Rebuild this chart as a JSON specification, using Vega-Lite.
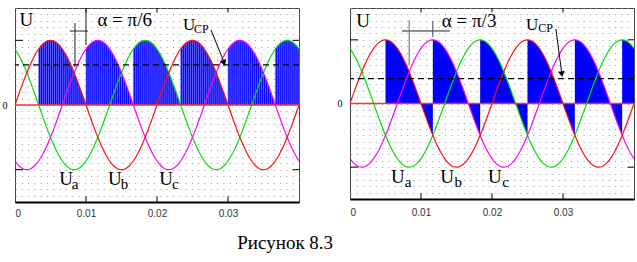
{
"$schema": "https://vega.github.io/schema/vega-lite/v6.json",
"padding": {"left": 1, "top": 2, "right": 2, "bottom": 5},
"background": "#ffffff",
"title": {"text": "Рисунок 8.3", "orient": "bottom", "anchor": "middle", "font": "Liberation Serif", "fontSize": 19, "fontWeight": "normal", "color": "#000000", "offset": 15, "dx": -34},
"config": {"view": {"stroke": "#444444", "strokeWidth": 1}, "text": {"font": "Liberation Serif", "color": "#000000"}},
"datasets": {
"one": [{}],
"pm1": [{"v": 1}, {"v": -1}],
"tk": [{"d": 180}, {"d": 360}, {"d": 540}],
"sine": [
{"d":0,"a":0,"b":-0.866,"c":0.866},{"d":10,"a":0.174,"b":-0.94,"c":0.766},{"d":20,"a":0.342,"b":-0.985,"c":0.643},{"d":30,"a":0.5,"b":-1,"c":0.5},{"d":40,"a":0.643,"b":-0.985,"c":0.342},{"d":50,"a":0.766,"b":-0.94,"c":0.174},{"d":60,"a":0.866,"b":-0.866,"c":0},{"d":70,"a":0.94,"b":-0.766,"c":-0.174},{"d":80,"a":0.985,"b":-0.643,"c":-0.342},{"d":90,"a":1,"b":-0.5,"c":-0.5},{"d":100,"a":0.985,"b":-0.342,"c":-0.643},{"d":110,"a":0.94,"b":-0.174,"c":-0.766},{"d":120,"a":0.866,"b":0,"c":-0.866},{"d":130,"a":0.766,"b":0.174,"c":-0.94},{"d":140,"a":0.643,"b":0.342,"c":-0.985},{"d":150,"a":0.5,"b":0.5,"c":-1},{"d":160,"a":0.342,"b":0.643,"c":-0.985},{"d":170,"a":0.174,"b":0.766,"c":-0.94},{"d":180,"a":0,"b":0.866,"c":-0.866},{"d":190,"a":-0.174,"b":0.94,"c":-0.766},{"d":200,"a":-0.342,"b":0.985,"c":-0.643},{"d":210,"a":-0.5,"b":1,"c":-0.5},{"d":220,"a":-0.643,"b":0.985,"c":-0.342},{"d":230,"a":-0.766,"b":0.94,"c":-0.174},{"d":240,"a":-0.866,"b":0.866,"c":0},{"d":250,"a":-0.94,"b":0.766,"c":0.174},{"d":260,"a":-0.985,"b":0.643,"c":0.342},{"d":270,"a":-1,"b":0.5,"c":0.5},{"d":280,"a":-0.985,"b":0.342,"c":0.643},{"d":290,"a":-0.94,"b":0.174,"c":0.766},{"d":300,"a":-0.866,"b":0,"c":0.866},{"d":310,"a":-0.766,"b":-0.174,"c":0.94},{"d":320,"a":-0.643,"b":-0.342,"c":0.985},{"d":330,"a":-0.5,"b":-0.5,"c":1},{"d":340,"a":-0.342,"b":-0.643,"c":0.985},{"d":350,"a":-0.174,"b":-0.766,"c":0.94},
{"d":360,"a":0,"b":-0.866,"c":0.866},{"d":370,"a":0.174,"b":-0.94,"c":0.766},{"d":380,"a":0.342,"b":-0.985,"c":0.643},{"d":390,"a":0.5,"b":-1,"c":0.5},{"d":400,"a":0.643,"b":-0.985,"c":0.342},{"d":410,"a":0.766,"b":-0.94,"c":0.174},{"d":420,"a":0.866,"b":-0.866,"c":0},{"d":430,"a":0.94,"b":-0.766,"c":-0.174},{"d":440,"a":0.985,"b":-0.643,"c":-0.342},{"d":450,"a":1,"b":-0.5,"c":-0.5},{"d":460,"a":0.985,"b":-0.342,"c":-0.643},{"d":470,"a":0.94,"b":-0.174,"c":-0.766},{"d":480,"a":0.866,"b":0,"c":-0.866},{"d":490,"a":0.766,"b":0.174,"c":-0.94},{"d":500,"a":0.643,"b":0.342,"c":-0.985},{"d":510,"a":0.5,"b":0.5,"c":-1},{"d":520,"a":0.342,"b":0.643,"c":-0.985},{"d":530,"a":0.174,"b":0.766,"c":-0.94},{"d":540,"a":0,"b":0.866,"c":-0.866},{"d":550,"a":-0.174,"b":0.94,"c":-0.766},{"d":560,"a":-0.342,"b":0.985,"c":-0.643},{"d":570,"a":-0.5,"b":1,"c":-0.5},{"d":580,"a":-0.643,"b":0.985,"c":-0.342},{"d":590,"a":-0.766,"b":0.94,"c":-0.174},{"d":600,"a":-0.866,"b":0.866,"c":0},{"d":610,"a":-0.94,"b":0.766,"c":0.174},{"d":620,"a":-0.985,"b":0.643,"c":0.342},{"d":630,"a":-1,"b":0.5,"c":0.5},{"d":640,"a":-0.985,"b":0.342,"c":0.643},{"d":650,"a":-0.94,"b":0.174,"c":0.766},{"d":660,"a":-0.866,"b":0,"c":0.866},{"d":670,"a":-0.766,"b":-0.174,"c":0.94},{"d":680,"a":-0.643,"b":-0.342,"c":0.985},{"d":690,"a":-0.5,"b":-0.5,"c":1},{"d":700,"a":-0.342,"b":-0.643,"c":0.985},{"d":710,"a":-0.174,"b":-0.766,"c":0.94},{"d":720,"a":0,"b":-0.866,"c":0.866}
],
"lobeL": [
{"L":1,"d":60,"u":0.866},{"L":1,"d":65,"u":0.906},{"L":1,"d":70,"u":0.94},{"L":1,"d":75,"u":0.966},{"L":1,"d":80,"u":0.985},{"L":1,"d":85,"u":0.996},{"L":1,"d":90,"u":1},{"L":1,"d":95,"u":0.996},{"L":1,"d":100,"u":0.985},{"L":1,"d":105,"u":0.966},{"L":1,"d":110,"u":0.94},{"L":1,"d":115,"u":0.906},{"L":1,"d":120,"u":0.866},{"L":1,"d":125,"u":0.819},{"L":1,"d":130,"u":0.766},{"L":1,"d":135,"u":0.707},{"L":1,"d":140,"u":0.643},{"L":1,"d":145,"u":0.574},{"L":1,"d":150,"u":0.5},{"L":1,"d":155,"u":0.423},{"L":1,"d":160,"u":0.342},{"L":1,"d":165,"u":0.259},{"L":1,"d":170,"u":0.174},{"L":1,"d":175,"u":0.087},{"L":1,"d":180,"u":0},
{"L":2,"d":180,"u":0.866},{"L":2,"d":185,"u":0.906},{"L":2,"d":190,"u":0.94},{"L":2,"d":195,"u":0.966},{"L":2,"d":200,"u":0.985},{"L":2,"d":205,"u":0.996},{"L":2,"d":210,"u":1},{"L":2,"d":215,"u":0.996},{"L":2,"d":220,"u":0.985},{"L":2,"d":225,"u":0.966},{"L":2,"d":230,"u":0.94},{"L":2,"d":235,"u":0.906},{"L":2,"d":240,"u":0.866},{"L":2,"d":245,"u":0.819},{"L":2,"d":250,"u":0.766},{"L":2,"d":255,"u":0.707},{"L":2,"d":260,"u":0.643},{"L":2,"d":265,"u":0.574},{"L":2,"d":270,"u":0.5},{"L":2,"d":275,"u":0.423},{"L":2,"d":280,"u":0.342},{"L":2,"d":285,"u":0.259},{"L":2,"d":290,"u":0.174},{"L":2,"d":295,"u":0.087},{"L":2,"d":300,"u":0},
{"L":3,"d":300,"u":0.866},{"L":3,"d":305,"u":0.906},{"L":3,"d":310,"u":0.94},{"L":3,"d":315,"u":0.966},{"L":3,"d":320,"u":0.985},{"L":3,"d":325,"u":0.996},{"L":3,"d":330,"u":1},{"L":3,"d":335,"u":0.996},{"L":3,"d":340,"u":0.985},{"L":3,"d":345,"u":0.966},{"L":3,"d":350,"u":0.94},{"L":3,"d":355,"u":0.906},{"L":3,"d":360,"u":0.866},{"L":3,"d":365,"u":0.819},{"L":3,"d":370,"u":0.766},{"L":3,"d":375,"u":0.707},{"L":3,"d":380,"u":0.643},{"L":3,"d":385,"u":0.574},{"L":3,"d":390,"u":0.5},{"L":3,"d":395,"u":0.423},{"L":3,"d":400,"u":0.342},{"L":3,"d":405,"u":0.259},{"L":3,"d":410,"u":0.174},{"L":3,"d":415,"u":0.087},{"L":3,"d":420,"u":0},
{"L":4,"d":420,"u":0.866},{"L":4,"d":425,"u":0.906},{"L":4,"d":430,"u":0.94},{"L":4,"d":435,"u":0.966},{"L":4,"d":440,"u":0.985},{"L":4,"d":445,"u":0.996},{"L":4,"d":450,"u":1},{"L":4,"d":455,"u":0.996},{"L":4,"d":460,"u":0.985},{"L":4,"d":465,"u":0.966},{"L":4,"d":470,"u":0.94},{"L":4,"d":475,"u":0.906},{"L":4,"d":480,"u":0.866},{"L":4,"d":485,"u":0.819},{"L":4,"d":490,"u":0.766},{"L":4,"d":495,"u":0.707},{"L":4,"d":500,"u":0.643},{"L":4,"d":505,"u":0.574},{"L":4,"d":510,"u":0.5},{"L":4,"d":515,"u":0.423},{"L":4,"d":520,"u":0.342},{"L":4,"d":525,"u":0.259},{"L":4,"d":530,"u":0.174},{"L":4,"d":535,"u":0.087},{"L":4,"d":540,"u":0},
{"L":5,"d":540,"u":0.866},{"L":5,"d":545,"u":0.906},{"L":5,"d":550,"u":0.94},{"L":5,"d":555,"u":0.966},{"L":5,"d":560,"u":0.985},{"L":5,"d":565,"u":0.996},{"L":5,"d":570,"u":1},{"L":5,"d":575,"u":0.996},{"L":5,"d":580,"u":0.985},{"L":5,"d":585,"u":0.966},{"L":5,"d":590,"u":0.94},{"L":5,"d":595,"u":0.906},{"L":5,"d":600,"u":0.866},{"L":5,"d":605,"u":0.819},{"L":5,"d":610,"u":0.766},{"L":5,"d":615,"u":0.707},{"L":5,"d":620,"u":0.643},{"L":5,"d":625,"u":0.574},{"L":5,"d":630,"u":0.5},{"L":5,"d":635,"u":0.423},{"L":5,"d":640,"u":0.342},{"L":5,"d":645,"u":0.259},{"L":5,"d":650,"u":0.174},{"L":5,"d":655,"u":0.087},{"L":5,"d":660,"u":0},
{"L":6,"d":660,"u":0.866},{"L":6,"d":665,"u":0.906},{"L":6,"d":670,"u":0.94},{"L":6,"d":675,"u":0.966},{"L":6,"d":680,"u":0.985},{"L":6,"d":685,"u":0.996},{"L":6,"d":690,"u":1},{"L":6,"d":695,"u":0.996},{"L":6,"d":700,"u":0.985},{"L":6,"d":705,"u":0.966},{"L":6,"d":710,"u":0.94},{"L":6,"d":715,"u":0.906},{"L":6,"d":720,"u":0.866}
],
"lobeR": [
{"L":1,"d":90,"u":1},{"L":1,"d":100,"u":0.985},{"L":1,"d":110,"u":0.94},{"L":1,"d":120,"u":0.866},{"L":1,"d":130,"u":0.766},{"L":1,"d":140,"u":0.643},{"L":1,"d":150,"u":0.5},{"L":1,"d":160,"u":0.342},{"L":1,"d":170,"u":0.174},{"L":1,"d":180,"u":0},{"L":1,"d":190,"u":-0.174},{"L":1,"d":200,"u":-0.342},{"L":1,"d":210,"u":-0.5},
{"L":2,"d":210,"u":1},{"L":2,"d":220,"u":0.985},{"L":2,"d":230,"u":0.94},{"L":2,"d":240,"u":0.866},{"L":2,"d":250,"u":0.766},{"L":2,"d":260,"u":0.643},{"L":2,"d":270,"u":0.5},{"L":2,"d":280,"u":0.342},{"L":2,"d":290,"u":0.174},{"L":2,"d":300,"u":0},{"L":2,"d":310,"u":-0.174},{"L":2,"d":320,"u":-0.342},{"L":2,"d":330,"u":-0.5},
{"L":3,"d":330,"u":1},{"L":3,"d":340,"u":0.985},{"L":3,"d":350,"u":0.94},{"L":3,"d":360,"u":0.866},{"L":3,"d":370,"u":0.766},{"L":3,"d":380,"u":0.643},{"L":3,"d":390,"u":0.5},{"L":3,"d":400,"u":0.342},{"L":3,"d":410,"u":0.174},{"L":3,"d":420,"u":0},{"L":3,"d":430,"u":-0.174},{"L":3,"d":440,"u":-0.342},{"L":3,"d":450,"u":-0.5},
{"L":4,"d":450,"u":1},{"L":4,"d":460,"u":0.985},{"L":4,"d":470,"u":0.94},{"L":4,"d":480,"u":0.866},{"L":4,"d":490,"u":0.766},{"L":4,"d":500,"u":0.643},{"L":4,"d":510,"u":0.5},{"L":4,"d":520,"u":0.342},{"L":4,"d":530,"u":0.174},{"L":4,"d":540,"u":0},{"L":4,"d":550,"u":-0.174},{"L":4,"d":560,"u":-0.342},{"L":4,"d":570,"u":-0.5},
{"L":5,"d":570,"u":1},{"L":5,"d":580,"u":0.985},{"L":5,"d":590,"u":0.94},{"L":5,"d":600,"u":0.866},{"L":5,"d":610,"u":0.766},{"L":5,"d":620,"u":0.643},{"L":5,"d":630,"u":0.5},{"L":5,"d":640,"u":0.342},{"L":5,"d":650,"u":0.174},{"L":5,"d":660,"u":0},{"L":5,"d":670,"u":-0.174},{"L":5,"d":680,"u":-0.342},{"L":5,"d":690,"u":-0.5},
{"L":6,"d":690,"u":1},{"L":6,"d":700,"u":0.985},{"L":6,"d":710,"u":0.94},{"L":6,"d":720,"u":0.866}
]
},
"hconcat": [
{
"width": 284, "height": 194,
"layer": [
{"data": {"name": "lobeL"}, "mark": {"type": "area", "color": "#0000ff", "opacity": 1},
 "encoding": {
  "x": {"field": "d", "type": "quantitative", "scale": {"domain": [0, 720], "nice": false, "zero": false},
        "axis": {"title": null, "values": [0, 180, 360, 540], "labelExpr": "datum.value == 0 ? '0' : format(datum.value / 18000, '.2f')", "ticks": false, "grid": false, "domain": true, "domainColor": "#000000", "domainWidth": 2, "labelFont": "Liberation Sans", "labelFontSize": 10, "labelColor": "#333333", "labelPadding": 6}},
  "y": {"field": "u", "type": "quantitative", "scale": {"domain": [-1.5, 1.5], "nice": false, "zero": false},
        "axis": {"title": null, "tickCount": 30, "grid": true, "gridDash": [1, 5.3], "gridColor": "#9a9a9a", "ticks": false, "domain": false, "labelExpr": "datum.value == 0 ? '0' : ''", "labelOverlap": false, "labelFont": "Liberation Serif", "labelFontSize": 10, "labelColor": "#000000", "labelPadding": 8}},
  "y2": {"datum": 0},
  "detail": {"field": "L"}}},
{"data": {"name": "lobeL"}, "mark": {"type": "rule", "color": "#8080ff", "strokeWidth": 1, "opacity": 0.7},
 "encoding": {"x": {"field": "d", "type": "quantitative"}, "y": {"field": "u", "type": "quantitative"}, "y2": {"datum": 0}}},
{"data": {"name": "sine"}, "mark": {"type": "line", "color": "#00e000", "strokeWidth": 1.2, "interpolate": "monotone"},
 "encoding": {"x": {"field": "d", "type": "quantitative"}, "y": {"field": "c", "type": "quantitative"}}},
{"data": {"name": "sine"}, "mark": {"type": "line", "color": "#ff00ff", "strokeWidth": 1.2, "interpolate": "monotone"},
 "encoding": {"x": {"field": "d", "type": "quantitative"}, "y": {"field": "b", "type": "quantitative"}}},
{"data": {"name": "sine"}, "mark": {"type": "line", "color": "#ff1010", "strokeWidth": 1.2, "interpolate": "monotone"},
 "encoding": {"x": {"field": "d", "type": "quantitative"}, "y": {"field": "a", "type": "quantitative"}}},
{"data": {"name": "one"}, "mark": {"type": "rule", "color": "#ff3030", "strokeWidth": 1.5}, "encoding": {"y": {"datum": 0}}},
{"data": {"name": "one"}, "mark": {"type": "rule", "color": "#000000", "strokeWidth": 1.4, "strokeDash": [6, 4]}, "encoding": {"y": {"datum": 0.62}}},
{"data": {"name": "one"}, "mark": {"type": "rule", "color": "#222222", "strokeWidth": 1}, "encoding": {"x": {"datum": 139}, "x2": {"datum": 185}, "y": {"datum": 1.144}}},
{"data": {"name": "one"}, "mark": {"type": "rule", "color": "#222222", "strokeWidth": 1}, "encoding": {"x": {"datum": 152}, "y": {"datum": 1.268}, "y2": {"datum": 0.588}}},
{"data": {"name": "one"}, "mark": {"type": "rule", "color": "#222222", "strokeWidth": 1}, "encoding": {"x": {"datum": 180}, "y": {"datum": 1.5}, "y2": {"datum": 0.928}}},
{"data": {"name": "one"}, "mark": {"type": "rule", "color": "#000000", "strokeWidth": 1}, "encoding": {"x": {"datum": 497}, "y": {"datum": 1.16}, "x2": {"datum": 530}, "y2": {"datum": 0.66}}},
{"data": {"name": "one"}, "mark": {"type": "point", "shape": "triangle-down", "filled": true, "color": "#000000", "opacity": 1, "size": 45, "angle": 338}, "encoding": {"x": {"datum": 530}, "y": {"datum": 0.65}}},
{"data": {"name": "tk"}, "mark": {"type": "rule", "color": "#000000", "strokeWidth": 1}, "encoding": {"x": {"field": "d", "type": "quantitative"}, "y": {"datum": 1.5}, "y2": {"datum": 1.43}}},
{"data": {"name": "tk"}, "mark": {"type": "rule", "color": "#000000", "strokeWidth": 1}, "encoding": {"x": {"field": "d", "type": "quantitative"}, "y": {"datum": -1.5}, "y2": {"datum": -1.41}}},
{"data": {"name": "pm1"}, "mark": {"type": "rule", "color": "#000000", "strokeWidth": 1}, "encoding": {"y": {"field": "v", "type": "quantitative"}, "x": {"datum": 0}, "x2": {"datum": 20}}},
{"data": {"name": "pm1"}, "mark": {"type": "rule", "color": "#000000", "strokeWidth": 1}, "encoding": {"y": {"field": "v", "type": "quantitative"}, "x": {"datum": 704}, "x2": {"datum": 720}}},
{"data": {"name": "one"}, "mark": {"type": "text", "text": "U", "font": "Liberation Serif", "align": "center", "baseline": "middle", "fontSize": 19}, "encoding": {"x": {"datum": 29}, "y": {"datum": 1.31}}},
{"data": {"name": "one"}, "mark": {"type": "text", "text": "α = π/6", "font": "Liberation Serif", "align": "center", "baseline": "middle", "fontSize": 19}, "encoding": {"x": {"datum": 278}, "y": {"datum": 1.31}}},
{"data": {"name": "one"}, "mark": {"type": "text", "text": "U", "font": "Liberation Serif", "align": "left", "baseline": "middle", "fontSize": 17}, "encoding": {"x": {"datum": 426}, "y": {"datum": 1.237}}},
{"data": {"name": "one"}, "mark": {"type": "text", "text": "СР", "font": "Liberation Serif", "align": "left", "baseline": "middle", "fontSize": 12}, "encoding": {"x": {"datum": 454}, "y": {"datum": 1.175}}},
{"data": {"name": "one"}, "mark": {"type": "text", "text": "U", "font": "Liberation Serif", "align": "left", "baseline": "middle", "fontSize": 19}, "encoding": {"x": {"datum": 112}, "y": {"datum": -1.152}}},
{"data": {"name": "one"}, "mark": {"type": "text", "text": "a", "font": "Liberation Serif", "align": "left", "baseline": "middle", "fontSize": 15}, "encoding": {"x": {"datum": 144}, "y": {"datum": -1.22}}},
{"data": {"name": "one"}, "mark": {"type": "text", "text": "U", "font": "Liberation Serif", "align": "left", "baseline": "middle", "fontSize": 19}, "encoding": {"x": {"datum": 236}, "y": {"datum": -1.152}}},
{"data": {"name": "one"}, "mark": {"type": "text", "text": "b", "font": "Liberation Serif", "align": "left", "baseline": "middle", "fontSize": 15}, "encoding": {"x": {"datum": 268}, "y": {"datum": -1.22}}},
{"data": {"name": "one"}, "mark": {"type": "text", "text": "U", "font": "Liberation Serif", "align": "left", "baseline": "middle", "fontSize": 19}, "encoding": {"x": {"datum": 366}, "y": {"datum": -1.152}}},
{"data": {"name": "one"}, "mark": {"type": "text", "text": "c", "font": "Liberation Serif", "align": "left", "baseline": "middle", "fontSize": 15}, "encoding": {"x": {"datum": 398}, "y": {"datum": -1.22}}}
]
},
{
"width": 284, "height": 191,
"layer": [
{"data": {"name": "lobeR"}, "mark": {"type": "area", "color": "#0000ff", "opacity": 1, "interpolate": "monotone"},
 "encoding": {
  "x": {"field": "d", "type": "quantitative", "scale": {"domain": [0, 720], "nice": false, "zero": false},
        "axis": {"title": null, "values": [0, 180, 360, 540], "labelExpr": "datum.value == 0 ? '0' : format(datum.value / 18000, '.2f')", "ticks": false, "grid": false, "domain": true, "domainColor": "#000000", "domainWidth": 2, "labelFont": "Liberation Sans", "labelFontSize": 10, "labelColor": "#333333", "labelPadding": 8}},
  "y": {"field": "u", "type": "quantitative", "scale": {"domain": [-1.5, 1.5], "nice": false, "zero": false},
        "axis": {"title": null, "tickCount": 30, "grid": true, "gridDash": [1, 5.3], "gridColor": "#9a9a9a", "ticks": false, "domain": false, "labelExpr": "datum.value == 0 ? '0' : ''", "labelOverlap": false, "labelFont": "Liberation Serif", "labelFontSize": 10, "labelColor": "#000000", "labelPadding": 8}},
  "y2": {"datum": 0},
  "detail": {"field": "L"}}},
{"data": {"name": "sine"}, "mark": {"type": "line", "color": "#00e000", "strokeWidth": 1.2, "interpolate": "monotone"},
 "encoding": {"x": {"field": "d", "type": "quantitative"}, "y": {"field": "c", "type": "quantitative"}}},
{"data": {"name": "sine"}, "mark": {"type": "line", "color": "#ff00ff", "strokeWidth": 1.2, "interpolate": "monotone"},
 "encoding": {"x": {"field": "d", "type": "quantitative"}, "y": {"field": "b", "type": "quantitative"}}},
{"data": {"name": "sine"}, "mark": {"type": "line", "color": "#ff1010", "strokeWidth": 1.2, "interpolate": "monotone"},
 "encoding": {"x": {"field": "d", "type": "quantitative"}, "y": {"field": "a", "type": "quantitative"}}},
{"data": {"name": "one"}, "mark": {"type": "rule", "color": "#ff3030", "strokeWidth": 1.5}, "encoding": {"y": {"datum": 0}}},
{"data": {"name": "one"}, "mark": {"type": "rule", "color": "#000000", "strokeWidth": 1.4, "strokeDash": [6, 4]}, "encoding": {"y": {"datum": 0.39}}},
{"data": {"name": "one"}, "mark": {"type": "rule", "color": "#222222", "strokeWidth": 1}, "encoding": {"x": {"datum": 132}, "x2": {"datum": 253}, "y": {"datum": 1.139}}},
{"data": {"name": "one"}, "mark": {"type": "rule", "color": "#666666", "strokeWidth": 1}, "encoding": {"x": {"datum": 150}, "y": {"datum": 1.31}, "y2": {"datum": 0.6}}},
{"data": {"name": "one"}, "mark": {"type": "rule", "color": "#444444", "strokeWidth": 1}, "encoding": {"x": {"datum": 210}, "y": {"datum": 1.296}, "y2": {"datum": 1.04}}},
{"data": {"name": "one"}, "mark": {"type": "rule", "color": "#000000", "strokeWidth": 1}, "encoding": {"x": {"datum": 522}, "y": {"datum": 1.17}, "x2": {"datum": 537}, "y2": {"datum": 0.47}}},
{"data": {"name": "one"}, "mark": {"type": "point", "shape": "triangle-down", "filled": true, "color": "#000000", "opacity": 1, "size": 45, "angle": 352}, "encoding": {"x": {"datum": 537}, "y": {"datum": 0.46}}},
{"data": {"name": "tk"}, "mark": {"type": "rule", "color": "#000000", "strokeWidth": 1}, "encoding": {"x": {"field": "d", "type": "quantitative"}, "y": {"datum": 1.5}, "y2": {"datum": 1.43}}},
{"data": {"name": "tk"}, "mark": {"type": "rule", "color": "#000000", "strokeWidth": 1}, "encoding": {"x": {"field": "d", "type": "quantitative"}, "y": {"datum": -1.5}, "y2": {"datum": -1.41}}},
{"data": {"name": "pm1"}, "mark": {"type": "rule", "color": "#000000", "strokeWidth": 1}, "encoding": {"y": {"field": "v", "type": "quantitative"}, "x": {"datum": 0}, "x2": {"datum": 20}}},
{"data": {"name": "pm1"}, "mark": {"type": "rule", "color": "#000000", "strokeWidth": 1}, "encoding": {"y": {"field": "v", "type": "quantitative"}, "x": {"datum": 704}, "x2": {"datum": 720}}},
{"data": {"name": "one"}, "mark": {"type": "text", "text": "U", "font": "Liberation Serif", "align": "center", "baseline": "middle", "fontSize": 19}, "encoding": {"x": {"datum": 33}, "y": {"datum": 1.296}}},
{"data": {"name": "one"}, "mark": {"type": "text", "text": "α = π/3", "font": "Liberation Serif", "align": "center", "baseline": "middle", "fontSize": 19}, "encoding": {"x": {"datum": 302}, "y": {"datum": 1.3}}},
{"data": {"name": "one"}, "mark": {"type": "text", "text": "U", "font": "Liberation Serif", "align": "left", "baseline": "middle", "fontSize": 17}, "encoding": {"x": {"datum": 446}, "y": {"datum": 1.24}}},
{"data": {"name": "one"}, "mark": {"type": "text", "text": "СР", "font": "Liberation Serif", "align": "left", "baseline": "middle", "fontSize": 12}, "encoding": {"x": {"datum": 477}, "y": {"datum": 1.186}}},
{"data": {"name": "one"}, "mark": {"type": "text", "text": "U", "font": "Liberation Serif", "align": "left", "baseline": "middle", "fontSize": 19}, "encoding": {"x": {"datum": 104}, "y": {"datum": -1.154}}},
{"data": {"name": "one"}, "mark": {"type": "text", "text": "a", "font": "Liberation Serif", "align": "left", "baseline": "middle", "fontSize": 15}, "encoding": {"x": {"datum": 139}, "y": {"datum": -1.233}}},
{"data": {"name": "one"}, "mark": {"type": "text", "text": "U", "font": "Liberation Serif", "align": "left", "baseline": "middle", "fontSize": 19}, "encoding": {"x": {"datum": 229}, "y": {"datum": -1.154}}},
{"data": {"name": "one"}, "mark": {"type": "text", "text": "b", "font": "Liberation Serif", "align": "left", "baseline": "middle", "fontSize": 15}, "encoding": {"x": {"datum": 265}, "y": {"datum": -1.233}}},
{"data": {"name": "one"}, "mark": {"type": "text", "text": "U", "font": "Liberation Serif", "align": "left", "baseline": "middle", "fontSize": 19}, "encoding": {"x": {"datum": 350}, "y": {"datum": -1.154}}},
{"data": {"name": "one"}, "mark": {"type": "text", "text": "c", "font": "Liberation Serif", "align": "left", "baseline": "middle", "fontSize": 15}, "encoding": {"x": {"datum": 386}, "y": {"datum": -1.233}}}
]
}
],
"spacing": 34
}
